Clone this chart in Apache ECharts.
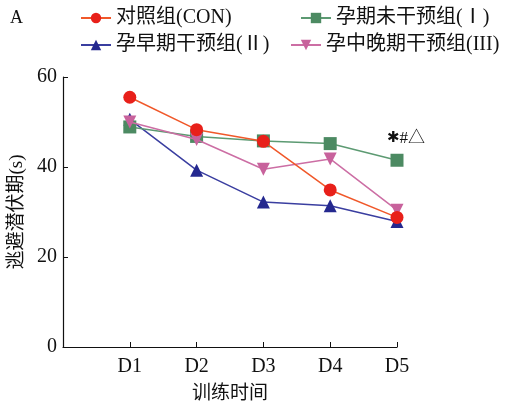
<!DOCTYPE html>
<html>
<head>
    <meta charset="utf-8">
    <title>index</title>
    <script src="https://cdn.jsdelivr.net/npm/echarts@6/dist/echarts.min.js"></script>
    <style>
        html, body { margin: 0; padding: 0; background: #fff; }
        #chart { width: 523px; height: 404px; }
    </style>
</head>
<body>
    <div id="chart"></div>
<script>
    var days = ['D1', 'D2', 'D3', 'D4', 'D5'];
    var yTicks = [0, 20, 40, 60];
    var names = ['对照组(CON)', '孕期未干预组(Ⅰ)', '孕早期干预组(Ⅱ)', '孕中晚期干预组(III)'];
    var con = [55.5, 48.3, 45.7, 34.9, 28.8];
    var grp1 = [48.9, 46.8, 45.8, 45.2, 41.5];
    var grp2 = [50.6, 39.3, 32.2, 31.4, 27.9];
    var grp3 = [50.0, 46.1, 39.5, 41.8, 30.4];
    var sigText = '{a|✱}#△';

    var font = '"Liberation Serif", "Noto Sans CJK SC", serif';
    var ink = '#111';

    function pts(arr) {
        return arr.map(function (v, i) { return [i + 1, v]; });
    }

    var chart = echarts.init(document.getElementById('chart'));

    function legendAt(name, left, top) {
        return {
            data: [name], left: left, top: top, itemWidth: 30, itemHeight: 13, itemGap: 0,
            textStyle: { fontFamily: font, fontSize: 20, color: ink }, padding: 0
        };
    }

    var greenData = pts(grp1);
    greenData[4] = {
        value: greenData[4],
        label: { show: true, formatter: sigText, position: 'top', offset: [9, -2],
                 fontFamily: font, fontSize: 17, color: ink,
                 rich: { a: { fontSize: 15, fontFamily: 'DejaVu Sans', color: ink } } }
    };

    chart.setOption({
        animation: false,
        graphic: [{ type: 'text', left: 10, top: 9, style: { text: 'A', font: '18px "Liberation Serif"', fill: ink } }],
        legend: [
            legendAt(names[0], 80, 8),
            legendAt(names[1], 300, 8),
            legendAt(names[2], 80, 35),
            legendAt(names[3], 290, 35)
        ],
        grid: { left: 63, right: 126, top: 77, bottom: 57, outerBoundsMode: 'none' },
        xAxis: {
            type: 'value', min: 0, max: 5, interval: 1,
            name: '训练时间', nameLocation: 'middle', nameGap: 38,
            nameTextStyle: { fontFamily: font, fontSize: 19, color: ink },
            axisLine: { lineStyle: { color: ink, width: 1.2 } },
            axisTick: { inside: true, length: 5, lineStyle: { color: ink } },
            splitLine: { show: false },
            axisLabel: { fontFamily: font, fontSize: 20, color: ink, margin: 10,
                         formatter: function (v) { return days[v - 1] || ''; } }
        },
        yAxis: {
            type: 'value', min: yTicks[0], max: yTicks[yTicks.length - 1], interval: 20,
            name: '逃避潜伏期(s)', nameLocation: 'middle', nameGap: 36,
            nameTextStyle: { fontFamily: font, fontSize: 19, color: ink },
            axisLine: { show: true, lineStyle: { color: ink, width: 1.2 } },
            axisTick: { show: true, inside: true, length: 5, lineStyle: { color: ink } },
            splitLine: { show: false },
            axisLabel: { fontFamily: font, fontSize: 20, color: ink, margin: 6 }
        },
        series: [
            { name: names[0], type: 'line', data: pts(con), symbol: 'circle', symbolSize: 13,
              itemStyle: { color: '#e8201a' }, lineStyle: { color: '#f0582a', width: 1.5 }, z: 5 },
            { name: names[1], type: 'line', data: greenData, symbol: 'rect', symbolSize: 13,
              itemStyle: { color: '#4c8a62' }, lineStyle: { color: '#5c9a72', width: 1.5 }, z: 3 },
            { name: names[2], type: 'line', data: pts(grp2), symbol: 'triangle', symbolSize: 13,
              itemStyle: { color: '#24288f' }, lineStyle: { color: '#3a3ea0', width: 1.5 }, z: 2 },
            { name: names[3], type: 'line', data: pts(grp3), symbol: 'triangle', symbolRotate: 180, symbolSize: 13,
              itemStyle: { color: '#c8629c' }, lineStyle: { color: '#cc6ea4', width: 1.5 }, z: 4 }
        ]
    });
</script>
</body>
</html>
